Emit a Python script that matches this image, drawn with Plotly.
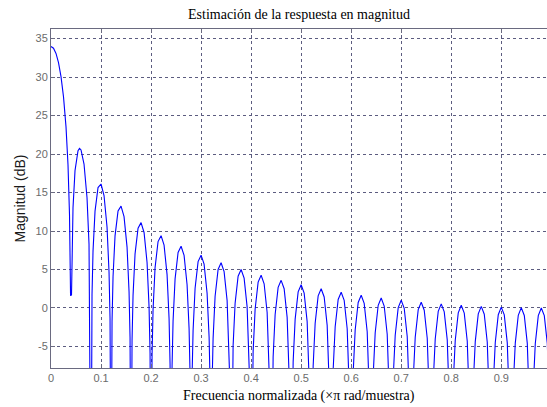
import plotly.graph_objects as go

# Normalized frequency (x pi rad/sample) and magnitude (dB)
freq = [
    0.0, 0.005, 0.01, 0.015, 0.02, 0.025, 0.03, 0.034, 0.037, 0.0391, 0.041,
    0.042, 0.044, 0.048, 0.054, 0.057, 0.06, 0.066, 0.072, 0.076, 0.078, 0.08,
    0.082, 0.084, 0.088, 0.094, 0.10, 0.106, 0.112, 0.116, 0.118, 0.12,
    0.122, 0.124, 0.128, 0.134, 0.14, 0.146, 0.152, 0.156, 0.158, 0.16,
    0.162, 0.164, 0.168, 0.174, 0.18, 0.186, 0.192, 0.196, 0.198, 0.20,
    0.202, 0.204, 0.208, 0.214, 0.22, 0.226, 0.232, 0.236, 0.238, 0.24,
    0.242, 0.244, 0.248, 0.254, 0.26, 0.266, 0.272, 0.276, 0.278, 0.28,
    0.282, 0.284, 0.288, 0.294, 0.30, 0.306, 0.312, 0.316, 0.318, 0.32,
    0.322, 0.324, 0.328, 0.334, 0.34, 0.346, 0.352, 0.356, 0.358, 0.36,
    0.362, 0.364, 0.368, 0.374, 0.38, 0.386, 0.392, 0.396, 0.398, 0.40,
    0.402, 0.404, 0.408, 0.414, 0.42, 0.426, 0.432, 0.436, 0.438, 0.44,
    0.442, 0.444, 0.448, 0.454, 0.46, 0.466, 0.472, 0.476, 0.478, 0.48,
    0.482, 0.484, 0.488, 0.494, 0.50, 0.506, 0.512, 0.516, 0.518, 0.52,
    0.522, 0.524, 0.528, 0.534, 0.54, 0.546, 0.552, 0.556, 0.558, 0.56,
    0.562, 0.564, 0.568, 0.574, 0.58, 0.586, 0.592, 0.596, 0.598, 0.60,
    0.602, 0.604, 0.608, 0.614, 0.62, 0.626, 0.632, 0.636, 0.638, 0.64,
    0.642, 0.644, 0.648, 0.654, 0.66, 0.666, 0.672, 0.676, 0.678, 0.68,
    0.682, 0.684, 0.688, 0.694, 0.70, 0.706, 0.712, 0.716, 0.718, 0.72,
    0.722, 0.724, 0.728, 0.734, 0.74, 0.746, 0.752, 0.756, 0.758, 0.76,
    0.762, 0.764, 0.768, 0.774, 0.78, 0.786, 0.792, 0.796, 0.798, 0.80,
    0.802, 0.804, 0.808, 0.814, 0.82, 0.826, 0.832, 0.836, 0.838, 0.84,
    0.842, 0.844, 0.848, 0.854, 0.86, 0.866, 0.872, 0.876, 0.878, 0.88,
    0.882, 0.884, 0.888, 0.894, 0.90, 0.906, 0.912, 0.916, 0.918, 0.92,
    0.922, 0.924, 0.928, 0.934, 0.94, 0.946, 0.952, 0.956, 0.958, 0.96,
    0.962, 0.964, 0.968, 0.974, 0.98, 0.986, 0.992, 0.996, 0.998,
]

mag_db = [
    33.98, 33.75, 33.07, 31.87, 30.06, 27.43, 23.53, 18.59, 12.08, 1.6, 1.7,
    7.51, 13.02, 17.84, 20.44, 20.73, 20.53, 18.70, 14.33, 8.28, 2.15, -30,
    1.69, 7.40, 12.58, 15.65, 16.11, 14.61, 10.52, 4.64, -1.41, -30,
    -1.71, 4.07, 9.37, 12.60, 13.23, 11.86, 7.91, 2.11, -3.91, -30,
    -4.17, 1.64, 7.03, 10.37, 11.09, 9.81, 5.91, 0.14, -5.87, -30,
    -6.03, -0.19, 5.23, 8.63, 9.40, 8.17, 4.33, -1.41, -7.39, -30,
    -7.52, -1.68, 3.78, 7.21, 8.02, 6.83, 3.02, -2.68, -8.66, -30,
    -8.77, -2.91, 2.56, 6.02, 6.86, 5.70, 1.92, -3.77, -9.73, -30,
    -9.82, -3.96, 1.53, 5.01, 5.87, 4.73, 0.97, -4.70, -10.66, -30,
    -10.75, -4.88, 0.62, 4.12, 5.00, 3.88, 0.14, -5.52, -11.47, -30,
    -11.54, -5.67, -0.16, 3.36, 4.25, 3.14, -0.58, -6.23, -12.18, -30,
    -12.24, -6.36, -0.84, 2.68, 3.59, 2.50, -1.22, -6.86, -12.80, -30,
    -12.85, -6.97, -1.45, 2.09, 3.01, 1.93, -1.77, -7.41, -13.35, -30,
    -13.39, -7.51, -1.98, 1.57, 2.50, 1.43, -2.26, -7.89, -13.83, -30,
    -13.87, -7.98, -2.44, 1.11, 2.05, 0.99, -2.70, -8.32, -14.25, -30,
    -14.29, -8.40, -2.86, 0.71, 1.65, 0.59, -3.08, -8.70, -14.63, -30,
    -14.66, -8.77, -3.22, 0.35, 1.30, 0.25, -3.42, -9.03, -14.96, -30,
    -14.98, -9.09, -3.54, 0.04, 1.00, -0.04, -3.70, -9.31, -15.24, -30,
    -15.25, -9.36, -3.80, -0.21, 0.75, -0.29, -3.94, -9.54, -15.47, -30,
    -15.49, -9.59, -4.03, -0.44, 0.53, -0.50, -4.15, -9.75, -15.67, -30,
    -15.69, -9.79, -4.22, -0.63, 0.35, -0.67, -4.32, -9.91, -15.83, -30,
    -15.85, -9.94, -4.37, -0.77, 0.21, -0.81, -4.45, -10.04, -15.95, -30,
    -15.96, -10.06, -4.48, -0.88, 0.11, -0.90, -4.54, -10.12, -16.04, -30,
    -16.05, -10.14, -4.56, -0.95, 0.04, -0.97, -4.60, -10.18, -16.09, -30,
    -16.10, -10.19, -4.61, -0.99, 0.00, -1.00, -4.62, -10.21, -16.12,
]

xtick_vals = [0, 0.1, 0.2, 0.3, 0.4, 0.5, 0.6, 0.7, 0.8, 0.9]
xtick_text = ["0", "0.1", "0.2", "0.3", "0.4", "0.5", "0.6", "0.7", "0.8", "0.9"]
ytick_vals = [-5, 0, 5, 10, 15, 20, 25, 30, 35]
ytick_text = ["-5", "0", "5", "10", "15", "20", "25", "30", "35"]

title_text = "Estimación de la respuesta en magnitud"
xlabel_text = "Frecuencia normalizada (×π rad/muestra)"
ylabel_text = "Magnitud (dB)"

axis_col = "#6a6a80"
grid_col = "#5c5c80"
tick_font = dict(family="Liberation Sans, Arial, sans-serif", size=11, color="#6b6b6b")

fig = go.Figure()
fig.add_trace(go.Scatter(x=freq, y=mag_db, mode="lines",
                         line=dict(color="#0000ff", width=1.1), hoverinfo="skip"))

fig.update_layout(
    width=547, height=407,
    margin=dict(l=51, r=0, t=29, b=39, pad=0),
    paper_bgcolor="white", plot_bgcolor="white",
    showlegend=False,
    title=dict(text=title_text, x=0.5, xref="paper", y=1 - 14 / 407, yref="container",
               xanchor="center", yanchor="middle",
               font=dict(family="Liberation Serif, Times New Roman, serif", size=14, color="black")),
)

fig.update_xaxes(
    range=[0, 0.9914], tickmode="array", tickvals=xtick_vals, ticktext=xtick_text,
    showline=True, linecolor=axis_col, linewidth=1, mirror="ticks",
    ticks="inside", ticklen=4, tickcolor=axis_col,
    showgrid=True, gridcolor=grid_col, gridwidth=1, griddash="3px,3px",
    zeroline=False, tickfont=tick_font,
)
fig.update_yaxes(
    range=[-7.8, 36.25], tickmode="array", tickvals=ytick_vals, ticktext=ytick_text,
    showline=True, linecolor=axis_col, linewidth=1, mirror=False,
    ticks="inside", ticklen=4, tickcolor=axis_col,
    showgrid=True, gridcolor=grid_col, gridwidth=1, griddash="3px,3px",
    zeroline=False, tickfont=tick_font,
)

fig.add_annotation(text=xlabel_text, xref="paper", yref="paper", x=0.5, y=-(396 - 368) / 339,
                   xanchor="center", yanchor="middle", showarrow=False,
                   font=dict(family="Liberation Serif, Times New Roman, serif", size=14, color="black"))
fig.add_annotation(text=ylabel_text, xref="paper", yref="paper", x=(19 - 51) / 496, y=0.5,
                   xanchor="center", yanchor="middle", showarrow=False, textangle=-90,
                   font=dict(family="Liberation Sans, Arial, sans-serif", size=14, color="#1a1a1a"))

fig.write_html("out.html", config={"displayModeBar": False},
               post_script="document.body.style.margin='0';document.body.style.overflow='hidden';")
